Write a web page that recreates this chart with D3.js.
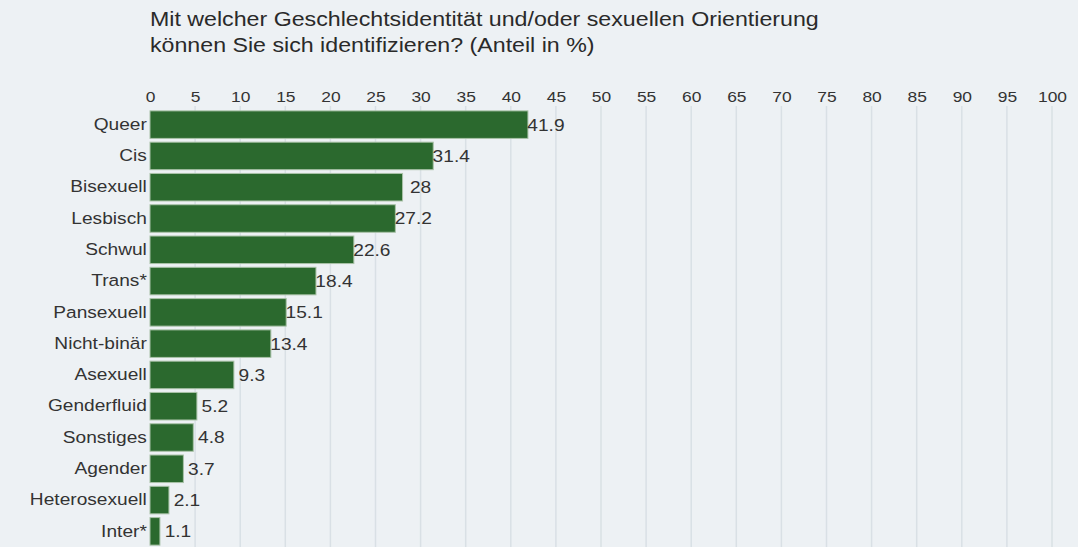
<!DOCTYPE html>
<html><head><meta charset="utf-8">
<script src="https://cdn.jsdelivr.net/npm/d3@7"></script>
<style>html,body{margin:0;padding:0;background:#edf1f4;overflow:hidden}</style>
</head><body>
<svg id="c" width="1078" height="547"></svg>
<script>
const titleLines = ["Mit welcher Geschlechtsidentität und/oder sexuellen Orientierung", "können Sie sich identifizieren? (Anteil in %)"];
const categories = ["Queer","Cis","Bisexuell","Lesbisch","Schwul","Trans*","Pansexuell","Nicht-binär","Asexuell","Genderfluid","Sonstiges","Agender","Heterosexuell","Inter*"];
const values = [41.9,31.4,28,27.2,22.6,18.4,15.1,13.4,9.3,5.2,4.8,3.7,2.1,1.1];
const valueLabels = ["41.9","31.4","28","27.2","22.6","18.4","15.1","13.4","9.3","5.2","4.8","3.7","2.1","1.1"];
const tickValues = d3.range(0, 101, 5);

const svg = d3.select("#c");
svg.append("rect").attr("width",1078).attr("height",547).attr("fill","#edf1f4");
const font = "Liberation Sans, Arial, sans-serif";
const SX = 1.16; // horizontal stretch of the reference's text

const x = d3.scaleLinear().domain([0,100]).range([150,1052]);
const y = d3.scaleBand().domain(categories).range([109,547]).paddingInner(0.12).paddingOuter(0.06);

svg.append("g").selectAll("text").data(titleLines).join("text")
  .attr("transform",(d,i)=>`translate(150,${26+i*25.5}) scale(${SX},1)`).text(d=>d)
  .attr("font-family",font).attr("font-size",20).attr("fill","#2a2a2a");

// grid
svg.append("g").selectAll("line").data(tickValues.slice(1)).join("line")
  .attr("x1",d=>x(d)).attr("x2",d=>x(d)).attr("y1",106).attr("y2",547)
  .attr("stroke","#d9e0e5").attr("stroke-width",1.5);

const ax = svg.append("g").attr("transform","translate(0,102)")
  .call(d3.axisTop(x).tickValues(tickValues).tickSize(0).tickPadding(0).tickFormat(d3.format("d")));
ax.select(".domain").remove();
ax.selectAll("text").attr("font-family",font).attr("font-size",15).attr("fill","#333")
  .attr("transform",`scale(${SX},1)`);

const ay = svg.append("g").attr("transform","translate(148,0)")
  .call(d3.axisLeft(y).tickSize(0).tickPadding(1));
ay.select(".domain").remove();
ay.selectAll("text").attr("font-family",font).attr("font-size",16.5).attr("fill","#333")
  .attr("transform",`scale(${SX},1)`);

svg.append("g").selectAll("rect").data(values).join("rect")
  .attr("x",x(0)).attr("y",(d,i)=>y(categories[i]))
  .attr("width",d=>x(d)-x(0)).attr("height",y.bandwidth())
  .attr("fill","#2b692e").attr("stroke","#a9c2a8").attr("stroke-width",1);

svg.append("g").selectAll("text").data(values).join("text")
  .attr("transform",(d,i)=>`translate(${x(d)+18},${y(categories[i])+y.bandwidth()/2}) scale(${SX},1)`)
  .attr("dy","0.36em").attr("text-anchor","middle").text((d,i)=>valueLabels[i])
  .attr("font-family",font).attr("font-size",16.5).attr("fill","#333");
</script>
</body></html>
